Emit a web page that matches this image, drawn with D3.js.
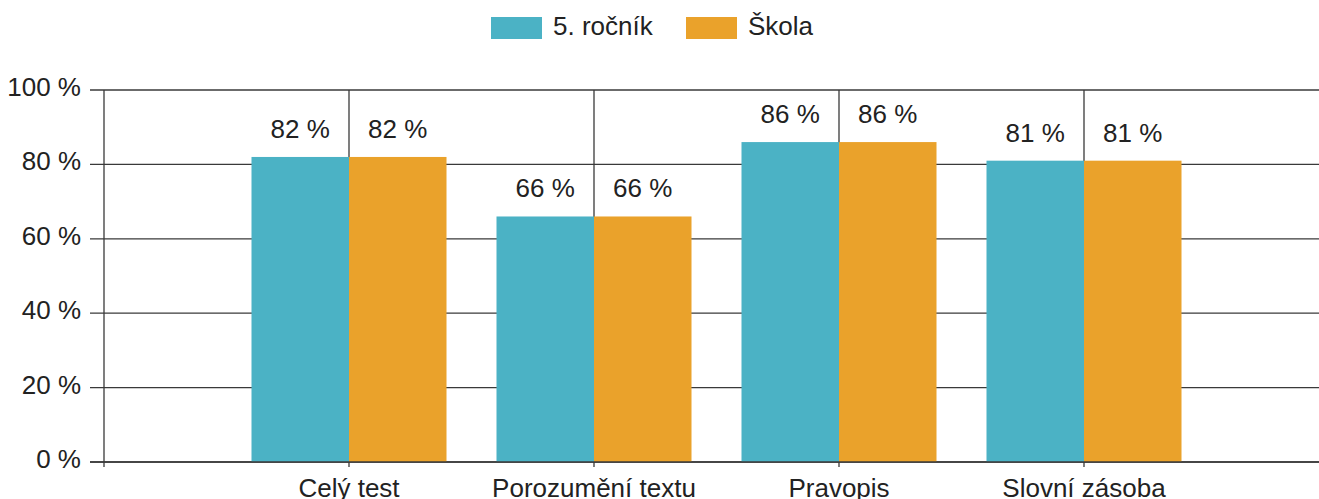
<!DOCTYPE html>
<html>
<head>
<meta charset="utf-8">
<script src="https://cdn.jsdelivr.net/npm/d3@7"></script>
<style>
  body { margin: 0; background: #fff; }
  svg { display: block; font-family: "Liberation Sans", Arial, sans-serif; }
</style>
</head>
<body>
<div id="chart"></div>
<script>
// chart data
const categories = ["Celý test", "Porozumění textu", "Pravopis", "Slovní zásoba"];
const seriesNames = ["5. ročník", "Škola"];
const rocnik = [82, 66, 86, 81];
const skola = [82, 66, 86, 81];
const yTicks = [0, 20, 40, 60, 80, 100];
const colors = ["#4bb2c5", "#eaa22b"];

const W = 1319, H = 499;
const fontSize = 26;
const svg = d3.select("#chart").append("svg")
   .attr("width", W)
   .attr("height", H);

const plotLeft = 104, plotTop = 90, plotBottom = 462;
const y = d3.scaleLinear().domain([0, 100]).range([plotBottom, plotTop]);
const x0 = d3.scaleBand().domain(categories).range([226.5, 1206.5]);
const x1 = d3.scaleBand().domain(seriesNames).range([25, 220]);

const rows = categories.map((c, i) => ({cat: c, values: [rocnik[i], skola[i]]}));

// horizontal grid lines
svg.append("g")
   .selectAll("line")
   .data(yTicks)
   .enter().append("line")
   .attr("x1", 90)
   .attr("x2", W)
   .attr("y1", d => y(d))
   .attr("y2", d => y(d))
   .attr("stroke", "#3a3a3a")
   .attr("stroke-width", 1.3);

// vertical grid lines at categories
svg.append("g")
   .selectAll("line")
   .data(categories)
   .enter().append("line")
   .attr("x1", d => x0(d) + x0.bandwidth() / 2)
   .attr("x2", d => x0(d) + x0.bandwidth() / 2)
   .attr("y1", plotTop)
   .attr("y2", plotBottom + 5)
   .attr("stroke", "#3a3a3a")
   .attr("stroke-width", 1.3);

// left axis line
svg.append("line")
   .attr("x1", plotLeft).attr("x2", plotLeft)
   .attr("y1", plotTop).attr("y2", plotBottom + 5)
   .attr("stroke", "#3a3a3a")
   .attr("stroke-width", 1.3);

// bars
const groups = svg.append("g")
   .selectAll("g")
   .data(rows)
   .enter().append("g")
   .attr("transform", d => "translate(" + x0(d.cat) + ",0)");

groups.selectAll("rect")
   .data(d => d.values.map((v, j) => ({name: seriesNames[j], value: v, j: j})))
   .enter().append("rect")
   .attr("x", d => x1(d.name))
   .attr("width", x1.bandwidth())
   .attr("y", d => y(d.value))
   .attr("height", d => y(0) - y(d.value))
   .attr("fill", d => colors[d.j]);

groups.selectAll("text")
   .data(d => d.values.map((v, j) => ({name: seriesNames[j], value: v})))
   .enter().append("text")
   .attr("x", d => x1(d.name) + x1.bandwidth() / 2)
   .attr("y", d => y(d.value) - 19)
   .attr("text-anchor", "middle")
   .attr("font-size", fontSize)
   .attr("fill", "#222")
   .text(d => d.value + " %");

// baseline redrawn over bars
svg.append("line")
   .attr("x1", 90).attr("x2", W)
   .attr("y1", y(0)).attr("y2", y(0))
   .attr("stroke", "#3a3a3a")
   .attr("stroke-width", 1.3);

// y tick labels
svg.append("g")
   .selectAll("text")
   .data(yTicks)
   .enter().append("text")
   .attr("x", 81)
   .attr("y", d => y(d) + 6)
   .attr("text-anchor", "end")
   .attr("font-size", fontSize)
   .attr("fill", "#222")
   .text(d => d + " %");

// category labels
svg.append("g")
   .selectAll("text")
   .data(categories)
   .enter().append("text")
   .attr("x", d => x0(d) + x0.bandwidth() / 2)
   .attr("y", 497)
   .attr("text-anchor", "middle")
   .attr("font-size", fontSize)
   .attr("fill", "#222")
   .text(d => d);

// legend
const legendX = [491, 686];
const legend = svg.append("g")
   .selectAll("g")
   .data(seriesNames)
   .enter().append("g")
   .attr("transform", (d, i) => "translate(" + legendX[i] + ",17)");
legend.append("rect")
   .attr("width", 51)
   .attr("height", 22)
   .attr("fill", (d, i) => colors[i]);
legend.append("text")
   .attr("x", 62)
   .attr("y", 18)
   .attr("font-size", fontSize)
   .attr("fill", "#222")
   .text(d => d);
</script>
</body>
</html>
